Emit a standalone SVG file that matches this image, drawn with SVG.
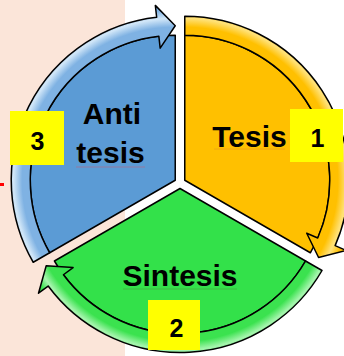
<svg xmlns="http://www.w3.org/2000/svg" width="344" height="356" viewBox="0 0 344 356">
  <defs>
    <radialGradient id="gBandY" gradientUnits="userSpaceOnUse" cx="184.76" cy="180.25" r="176">
      <stop offset="0.82" stop-color="#FFC000"/>
      <stop offset="0.87" stop-color="#FFC000"/>
      <stop offset="0.92" stop-color="#FFE27A"/>
      <stop offset="0.965" stop-color="#FFC000"/>
      <stop offset="1" stop-color="#F2B000"/>
    </radialGradient>
    <radialGradient id="gBandG" gradientUnits="userSpaceOnUse" cx="180" cy="188.5" r="176">
      <stop offset="0.82" stop-color="#3BE24F"/>
      <stop offset="0.87" stop-color="#3BE24F"/>
      <stop offset="0.92" stop-color="#A6F5AE"/>
      <stop offset="0.965" stop-color="#3BE24F"/>
      <stop offset="1" stop-color="#30D044"/>
    </radialGradient>
    <radialGradient id="gBandB" gradientUnits="userSpaceOnUse" cx="175.24" cy="180.25" r="176">
      <stop offset="0.82" stop-color="#7FB2E3"/>
      <stop offset="0.87" stop-color="#7FB2E3"/>
      <stop offset="0.92" stop-color="#D2E7F8"/>
      <stop offset="0.965" stop-color="#7FB2E3"/>
      <stop offset="1" stop-color="#6FA6DC"/>
    </radialGradient>
    <filter id="soft" x="-50%" y="-50%" width="200%" height="200%">
      <feGaussianBlur stdDeviation="1.2"/>
    </filter>
  </defs>
  <style>
    .edge { stroke: #000; stroke-width: 1.5; stroke-linejoin: round; }
    .lbl { font-family: "Liberation Sans", Arial, sans-serif; font-weight: bold; font-size: 30px; fill: #000; text-anchor: middle; }
    .num { font-family: "Liberation Sans", Arial, sans-serif; font-weight: bold; font-size: 25px; fill: #000; text-anchor: middle; }
    .badge { fill: #FFFF00; }
    .gloss { fill: none; stroke-width: 3; stroke-linecap: round; filter: url(#soft); }
  </style>

  <rect x="0" y="0" width="344" height="356" fill="#FFFFFF"/>
  <rect x="0" y="0" width="125" height="356" fill="#FBE5D9"/>
  <rect x="0" y="183" width="4" height="3" fill="#FF0000"/>

  <g id="node-tesis">
    <path class="edge" fill="#FFC000" d="M184.76,180.25 L184.76,35.25 A145,145 0 0 1 310.33,252.75 Z"/>
    <line class="gloss" x1="197" y1="42" x2="197" y2="172" stroke="#FFE27A" opacity="0.8"/>
    <text class="lbl" x="249.5" y="147">Tesis</text>
    <line x1="214" y1="149" x2="285" y2="149" stroke="#E08A30" stroke-width="0.8" opacity="0.6"/>
  </g>

  <g id="node-sintesis">
    <path class="edge" fill="#33E14A" d="M180,188.5 L305.57,261 A145,145 0 0 1 54.43,261 Z"/>
    <text class="lbl" x="180" y="286">Sintesis</text>
    <line x1="123" y1="289" x2="237" y2="289" stroke="#4F8F3A" stroke-width="0.8" opacity="0.6"/>
  </g>

  <g id="node-antitesis">
    <path class="edge" fill="#5B9BD5" d="M175.24,180.25 L49.67,252.75 A145,145 0 0 1 175.24,35.25 Z"/>
    <line class="gloss" x1="165" y1="45" x2="165" y2="172" stroke="#D2E7F8" opacity="0.8"/>
    <text class="lbl" x="112" y="124">Anti</text>
    <text class="lbl" x="110.5" y="163">tesis</text>
    <line x1="76" y1="167" x2="145" y2="167" stroke="#C0607A" stroke-width="0.8" opacity="0.7"/>
  </g>

  <g id="connectors">
    <path class="edge" fill="url(#gBandY)" d="M184.76,16.25 A164,164 0 0 1 335.16,245.64 L346.17,250.42 L318.56,257.5 L306.73,233.28 L317.74,238.06 A145,145 0 0 0 184.76,35.25 Z"/>
    <path class="edge" fill="url(#gBandG)" d="M322.03,270.5 A164,164 0 0 1 48.16,286.05 L38.51,293.18 L46.2,265.75 L73.08,267.61 L63.43,274.75 A145,145 0 0 0 305.57,261 Z"/>
    <path class="edge" fill="url(#gBandB)" d="M33.21,262.25 A164,164 0 0 1 156.67,17.3 L155.32,5.38 L175.24,25.75 L160.18,48.1 L158.83,36.18 A145,145 0 0 0 49.67,252.75 Z"/>
  </g>

  <g id="badge-1">
    <rect class="badge" x="290" y="109" width="53" height="53"/>
    <text class="num" x="317.5" y="147">1</text>
  </g>
  <g id="badge-2">
    <rect class="badge" x="148" y="300" width="52" height="50"/>
    <text class="num" x="176.5" y="337">2</text>
  </g>
  <g id="badge-3">
    <rect class="badge" x="10" y="111" width="54" height="54"/>
    <text class="num" x="37.5" y="150">3</text>
  </g>
</svg>
